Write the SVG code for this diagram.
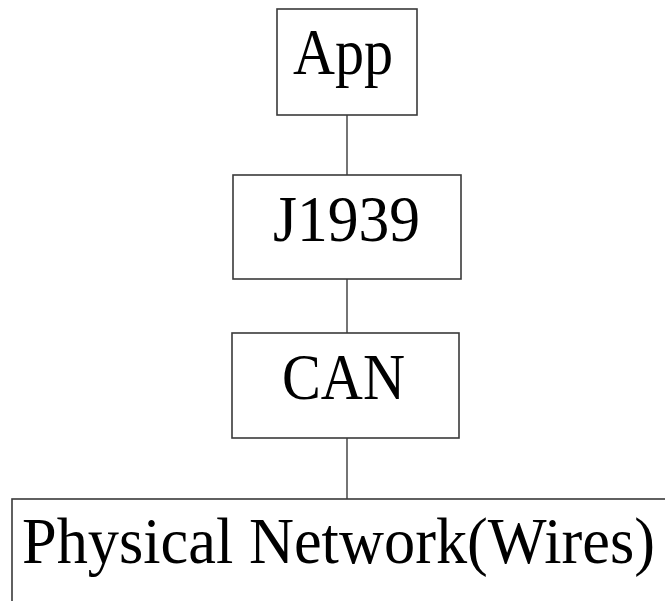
<svg xmlns="http://www.w3.org/2000/svg" width="665" height="601" viewBox="0 0 665 601">
  <style>
    .box { fill: #ffffff; stroke: #3a3a3a; stroke-width: 1.6; }
    .wire { stroke: #3a3a3a; stroke-width: 1.4; fill: none; }
    .label { font-family: "Liberation Serif", "Times New Roman", serif; font-size: 66px; fill: #000000; }
  </style>
  <rect width="665" height="601" fill="#ffffff"/>
  <!-- connectors between protocol layers -->
  <g id="connectors">
    <line class="wire" x1="347" y1="115" x2="347" y2="175"/>
    <line class="wire" x1="347" y1="279" x2="347" y2="333"/>
    <line class="wire" x1="347" y1="438" x2="347" y2="499"/>
  </g>
  <g id="app">
    <rect class="box" x="277" y="9" width="140" height="106"/>
    <text class="label" x="293" y="74" textLength="100" lengthAdjust="spacingAndGlyphs">App</text>
  </g>
  <g id="j1939">
    <rect class="box" x="233" y="175" width="228" height="104"/>
    <text class="label" x="273" y="241" textLength="147" lengthAdjust="spacingAndGlyphs">J1939</text>
  </g>
  <g id="can">
    <rect class="box" x="232" y="333" width="227" height="105"/>
    <text class="label" x="282" y="399" textLength="123" lengthAdjust="spacingAndGlyphs">CAN</text>
  </g>
  <g id="physical">
    <rect class="box" x="12" y="499" width="680" height="130"/>
    <text class="label" x="22" y="563" textLength="633" lengthAdjust="spacingAndGlyphs">Physical Network(Wires)</text>
  </g>
</svg>
